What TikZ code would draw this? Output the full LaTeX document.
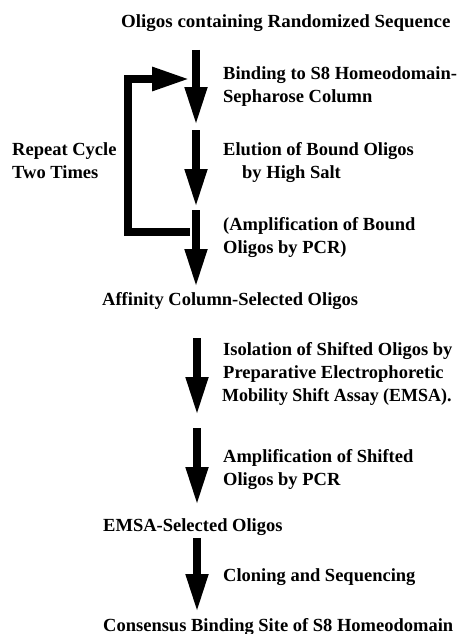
\documentclass[tikz,border=0pt]{standalone}
\usepackage{fontspec}
\setmainfont{Liberation Serif}
\usetikzlibrary{arrows.meta}
\tikzset{
  lbl/.style={anchor=base west, inner sep=0pt, font=\fontsize{18.5}{23}\selectfont\bfseries},
  flow/.style={line width=7.5pt, -{Triangle[length=38pt,width=21pt]}},
  loopline/.style={line width=8.5pt, line join=miter, -{Triangle[length=38pt,width=22pt]}}
}
\begin{document}
\begin{tikzpicture}[x=1pt,y=-1pt]
\useasboundingbox (0,0) rectangle (458,634);
% texts
\node[lbl] (t0) at (121,28) {\scalebox{1.025}[1]{Oligos containing Randomized Sequence}};
\node[lbl] (t1a) at (223,79) {Binding to S8 Homeodomain-};
\node[lbl] (t1b) at (223,102) {Sepharose Column};
\node[lbl] (r1) at (12,155) {Repeat Cycle};
\node[lbl] (r2) at (12,178) {Two Times};
\node[lbl] (t2a) at (223,155) {Elution of Bound Oligos};
\node[lbl] (t2b) at (242,178) {by High Salt};
\node[lbl] (t3a) at (223,230) {(Amplification of Bound};
\node[lbl] (t3b) at (223,253) {Oligos by PCR)};
\node[lbl] (s1) at (102,305) {Affinity Column-Selected Oligos};
\node[lbl] (t4a) at (223,355) {Isolation of Shifted Oligos by};
\node[lbl] (t4b) at (223,378) {Preparative Electrophoretic};
\node[lbl] (t4c) at (222,401) {\scalebox{0.97}[1]{Mobility Shift Assay (EMSA).}};
\node[lbl] (t5a) at (223,462) {Amplification of Shifted};
\node[lbl] (t5b) at (223,485) {Oligos by PCR};
\node[lbl] (s2) at (103,531) {EMSA-Selected Oligos};
\node[lbl] (t6) at (223,581) {Cloning and Sequencing};
\node[lbl] (s3) at (103,631) {Consensus Binding Site of S8 Homeodomain};
% arrow end points
\coordinate (a1s) at (196,50);  \coordinate (a1e) at (196,125);
\coordinate (a2s) at (196,130); \coordinate (a2e) at (196,207);
\coordinate (a3s) at (196,210); \coordinate (a3e) at (196,287);
\coordinate (a4s) at (197,338); \coordinate (a4e) at (197,415);
\coordinate (a5s) at (197,428); \coordinate (a5e) at (197,505);
\coordinate (a6s) at (197,538); \coordinate (a6e) at (197,612);
\draw[flow] (a1s) -- (a1e);
\draw[flow] (a2s) -- (a2e);
\draw[flow] (a3s) -- (a3e);
\draw[flow] (a4s) -- (a4e);
\draw[flow] (a5s) -- (a5e);
\draw[flow] (a6s) -- (a6e);
% repeat loop
\coordinate (lb) at (190,232);
\coordinate (lc) at (128,232);
\coordinate (ld) at (128,79);
\coordinate (le) at (190,79);
\draw[loopline] (lb) -- (lc) -- (ld) -- (le);
\end{tikzpicture}
\end{document}
